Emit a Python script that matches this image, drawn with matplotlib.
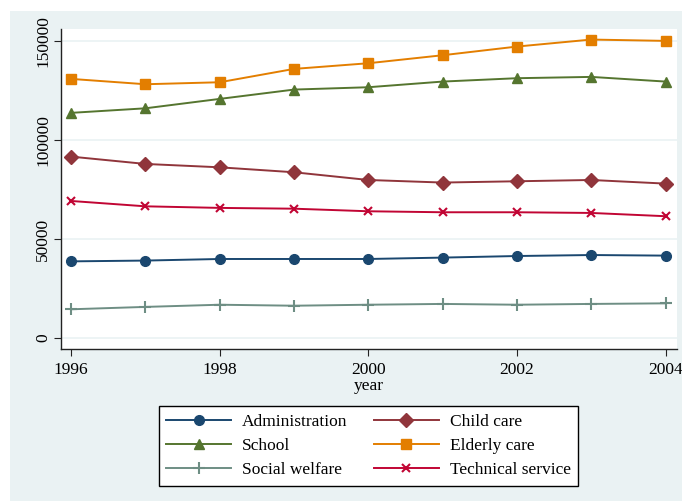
import matplotlib
matplotlib.use('Agg')
import matplotlib.pyplot as plt
from matplotlib.patches import Rectangle

years = [1996, 1997, 1998, 1999, 2000, 2001, 2002, 2003, 2004]
administration = [38700, 39100, 39900, 39900, 39900, 40600, 41400, 41900, 41600]
child_care = [91600, 87900, 86200, 83700, 79800, 78500, 79150, 79800, 77970]
school = [113700, 116000, 120750, 125460, 126640, 129500, 131200, 131860, 129500]
elderly_care = [130850, 128150, 129160, 135900, 138760, 142800, 147180, 150720, 150050]
social_welfare = [14500, 15700, 16800, 16300, 16800, 17200, 16800, 17200, 17500]
technical_service = [69200, 66500, 65700, 65300, 64000, 63500, 63500, 63150, 61500]

plt.rcParams['font.family'] = ['Liberation Serif', 'DejaVu Serif']
plt.rcParams['font.size'] = 12.5

W, H = 682, 501
fig = plt.figure(figsize=(W / 100, H / 100), dpi=100, facecolor='white')
bg = '#EAF2F3'
fig.patches.append(Rectangle((10 / W, 0), 1 - 10 / W, (H - 11) / H,
                             transform=fig.transFigure, facecolor=bg,
                             edgecolor='none', zorder=-1))

ax = fig.add_axes([60.7 / W, (H - 349) / H, 616 / W, (349 - 29.3) / H])
ax.set_facecolor('white')

series = [
    ('Administration', administration, '#1A476F', 'o', 7),
    ('Child care', child_care, '#90353B', 'D', 7),
    ('School', school, '#55752F', '^', 7.5),
    ('Elderly care', elderly_care, '#E37E00', 's', 6.5),
    ('Social welfare', social_welfare, '#6E8E84', '+', 8),
    ('Technical service', technical_service, '#C10534', 'x', 5.5),
]
handles = {}
for name, vals, col, mk, ms in series:
    ln, = ax.plot(years, vals, color=col, marker=mk, markersize=ms, linewidth=1.4,
                  markeredgewidth=1.5 if mk in '+x' else 1, label=name)
    handles[name] = ln

ax.set_xlim(1995.86, 2004.15)
ax.set_ylim(-5560, 155900)
ax.set_xticks([1996, 1998, 2000, 2002, 2004])
ax.set_yticks([0, 50000, 100000, 150000])
ax.tick_params(axis='both', length=5, width=0.8, color='#222222')
ax.tick_params(axis='x', pad=4)
ax.tick_params(axis='y', pad=2)
for lab in ax.get_yticklabels():
    lab.set_rotation(90)
    lab.set_va('center')
ax.grid(axis='y', color=bg, linewidth=1.2)
ax.set_axisbelow(True)
for s in ['top', 'right']:
    ax.spines[s].set_visible(False)
for s in ['left', 'bottom']:
    ax.spines[s].set_color('#222222')
    ax.spines[s].set_linewidth(1)
ax.set_xlabel('year', labelpad=0)

# column-major order so the rows read like the reference
order = ['Administration', 'School', 'Social welfare',
         'Child care', 'Elderly care', 'Technical service']
leg = fig.legend([handles[n] for n in order], order,
                 loc='center', bbox_to_anchor=(368.5 / W, 1 - 445.7 / H), ncol=2,
                 frameon=True, fancybox=False, framealpha=1, edgecolor='black',
                 handlelength=3.74, handletextpad=0.63, columnspacing=1.5,
                 labelspacing=0.46, borderpad=0.45)
leg.get_frame().set_linewidth(1)

fig.savefig('out.png', dpi=100, facecolor=fig.get_facecolor())
